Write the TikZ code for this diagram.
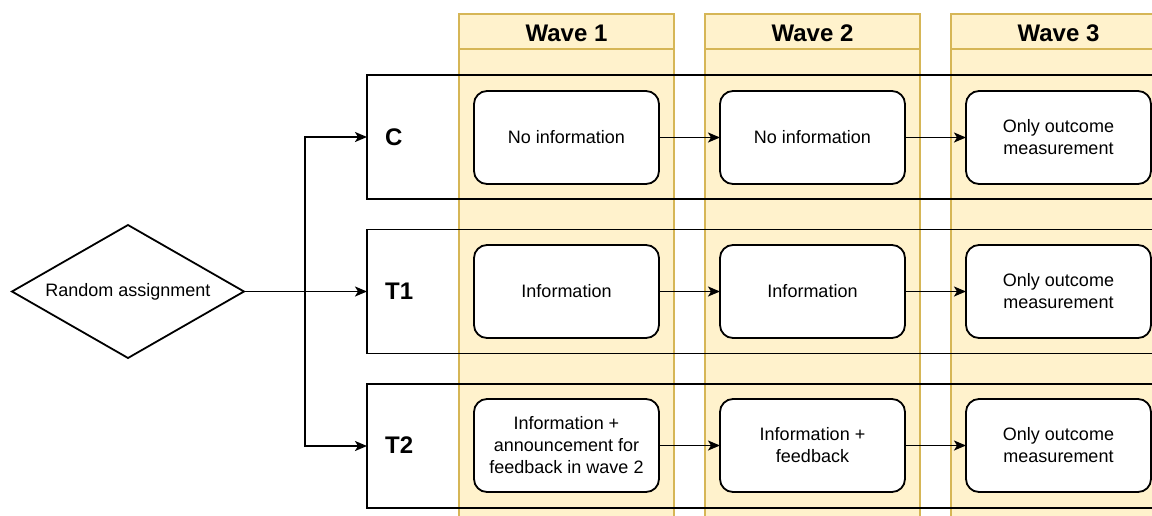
\documentclass[tikz,border=0pt]{standalone}
\usepackage{fontspec}
\setmainfont{Liberation Sans}
\usetikzlibrary{shapes.geometric,arrows.meta}
\definecolor{colfill}{HTML}{FFF2CC}
\definecolor{coldraw}{HTML}{D6B656}
\tikzset{
  wavecol/.style={draw=coldraw, fill=colfill, line width=1.5pt, minimum width=215pt, minimum height=620pt, anchor=north west, inner sep=0pt, outer sep=0pt},
  wavehead/.style={draw=coldraw, fill=colfill, line width=1.5pt, minimum width=215pt, minimum height=35pt, anchor=north west, inner sep=0pt, outer sep=0pt, font=\fontsize{24}{28}\selectfont\bfseries},
  rowbox/.style={draw=black, line width=1.8pt, minimum width=840pt, minimum height=124pt, anchor=north west, inner sep=0pt, outer sep=0pt},
  rowlabel/.style={anchor=west, font=\fontsize{24}{28}\selectfont\bfseries, inner sep=0pt},
  stepbox/.style={draw=black, fill=white, line width=1.8pt, rounded corners=13pt, minimum width=185pt, minimum height=93pt, inner sep=0pt, outer sep=0pt, align=center, font=\fontsize{18}{22}\selectfont},
  conn/.style={line width=1.8pt, -{Stealth[length=12pt,width=10pt,inset=3pt]}},
}
\begin{document}
\begin{tikzpicture}[x=1pt,y=-1pt]
\useasboundingbox (0,0) rectangle (1152,515);
\clip (0,0) rectangle (1152,515);
% wave columns
\foreach \x/\n/\t in {459/w1/Wave 1, 705/w2/Wave 2, 951/w3/Wave 3}{
  \node[wavecol] (col\n) at (\x,14) {};
  \node[wavehead] (head\n) at (\x,14) {};
  \node[font=\fontsize{24}{28}\selectfont\bfseries, inner sep=0pt] (txt\n) at ([yshift=-2pt]head\n.center) {\t};
}
% row boxes
\node[rowbox] (rowC) at (367,75) {};
\node[rowbox] (rowA) at (367,229.5) {};
\node[rowbox] (rowB) at (367,384) {};
\node[rowlabel] (labC) at (385,137) {C};
\node[rowlabel] (labA) at (385,291.5) {T1};
\node[rowlabel] (labB) at (385,445.5) {T2};
% diamond
\node[diamond, draw=black, line width=1.8pt, minimum width=232pt, minimum height=133pt, aspect=1.744, inner sep=0pt, outer sep=0pt, font=\fontsize{18}{22}\selectfont] (dia) at (128,291.5) {Random assignment};
\coordinate (br) at (305,291.5);
\draw[conn] (dia.east) -- (rowA.west);
\draw[conn] (br) |- (rowC.west);
\draw[conn] (br) |- (rowB.west);
% step boxes
\node[stepbox] (c1) at (566.5,137.5) {No information};
\node[stepbox] (c2) at (812.5,137.5) {No information};
\node[stepbox] (c3) at (1058.5,137.5) {Only outcome\\measurement};
\node[stepbox] (a1) at (566.5,291.5) {Information};
\node[stepbox] (a2) at (812.5,291.5) {Information};
\node[stepbox] (a3) at (1058.5,291.5) {Only outcome\\measurement};
\node[stepbox] (b1) at (566.5,445.5) {Information +\\announcement for\\feedback in wave 2};
\node[stepbox] (b2) at (812.5,445.5) {Information +\\feedback};
\node[stepbox] (b3) at (1058.5,445.5) {Only outcome\\measurement};
\draw[conn] (c1) -- (c2);
\draw[conn] (c2) -- (c3);
\draw[conn] (a1) -- (a2);
\draw[conn] (a2) -- (a3);
\draw[conn] (b1) -- (b2);
\draw[conn] (b2) -- (b3);
\end{tikzpicture}
\end{document}
